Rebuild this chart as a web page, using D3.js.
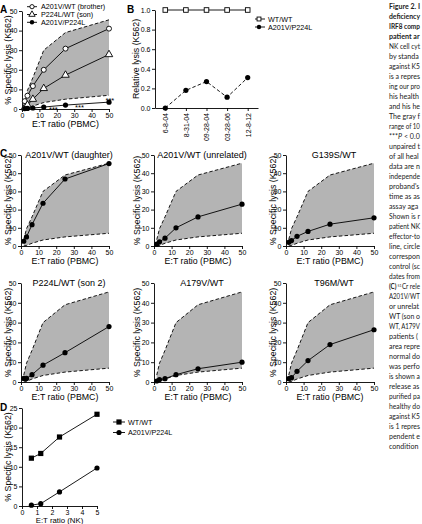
<!DOCTYPE html>
<html><head><meta charset="utf-8">
<script src="https://cdn.jsdelivr.net/npm/d3@7"></script>
<style>
body{margin:0;background:#fff;overflow:hidden}
svg{display:block}
.ch text{font-family:"Liberation Sans",Arial,sans-serif;fill:#000}
.cap text{font-family:"Lato","Noto Sans",sans-serif;fill:#222}
</style></head><body>
<svg id="c" width="422" height="524"></svg>
<script>
// ---------- DATA ----------
const etRatios = [1.5625, 3.125, 6.25, 12.5, 25, 50];
const bandUpper = [3.5, 9.5, 16, 30, 39, 45.5];
const bandLower = [0, 0.3, 1.5, 3.3, 5, 7];
const lysisTicks = [0, 10, 20, 30, 40, 50];

// Panel A
const aLegend = ["A201V/WT (brother)", "P224L/WT (son)", "A201V/P224L"];
const aBrother = [4, 6.8, 11.7, 20, 30.8, 41];
const aSon = [0.7, 2, 5, 10.5, 17.3, 27.8];
const aPatient = [0.2, 0.3, 0.5, 1, 2, 3.5];
const aStars = [[15.5, 1], [30.5, 2], [48, 5.5]];

// Panel B
const bDates = ["6-8-04", "8-31-04", "09-28-04", "03-28-06", "12-8-12"];
const bWT = [1, 1, 1, 1, 1];
const bPatient = [0, 0.18, 0.27, 0.11, 0.31];
const bLegend = ["WT/WT", "A201V/P224L"];
const bTicks = [0, 0.2, 0.4, 0.6, 0.8, 1.0];

// Panel C
const cTitles = ["A201V/WT (daughter)", "A201V/WT (unrelated)", "G139S/WT",
                 "P224L/WT (son 2)", "A179V/WT", "T96M/WT"];
const cDaughter = [2.6, 5, 11.7, 23.5, 36.8, 45.3];
const cUnrelated = [1, 2.3, 4.3, 10, 16, 23];
const cG139S = [2, 3, 5.3, 8, 12, 15.5];
const cSon2 = [1.8, 1.8, 3.7, 8.5, 14.8, 28];
const cA179V = [0.5, 1.2, 1.7, 3.7, 6.7, 10];
const cT96M = [1.7, 2.2, 5.4, 10.8, 18.9, 26.4];

// Panel D
const dRatios = [0.625, 1.25, 2.5, 5];
const dWT = [12.2, 13.4, 17.6, 23.4];
const dPatient = [0.2, 0.6, 3.6, 9.7];
const dLegend = ["WT/WT", "A201V/P224L"];
const dXTicks = [0, 1, 2, 3, 4, 5];
const dYTicks = [0, 5, 10, 15, 20, 25];

// Caption
const captionLines = ["Figure 2. I", "deficiency", "IRF8 comp", "patient ar",
 "NK cell cyt", "by standa", "against K5", "is a repres", "ing our pro", "his health",
 "and his he", "The gray f", "range of 10", "***P < 0.0", "unpaired t", "of all heal",
 "data are n", "independe", "proband's", "time as as", "assay aga", "Shown is r",
 "patient NK", "effector-to", "line, circle", "correspon", "control (sc", "dates from",
 "(C) 51Cr rele", "A201V/WT", "or unrelat", "WT (son o", "WT, A179V", "patients (",
 "area repre", "normal do", "was perfo", "is shown a", "release as", "purified pa",
 "healthy do", "against K5", "is 1 repres", "pendent e", "condition"];

// ---------- DRAWING ----------
const svg = d3.select("#c");
const ch = svg.append("g").attr("class", "ch");
const GRAY = "#b4b4b4";
const TICKFS = 7, TITLEFS = 8.8;

function styleAxis(g) {
  g.selectAll("path.domain").attr("stroke", "#000").attr("stroke-width", 0.9);
  g.selectAll(".tick line").attr("stroke", "#000").attr("stroke-width", 0.9);
  g.selectAll(".tick text").attr("font-size", TICKFS).attr("font-family", "Liberation Sans, Arial, sans-serif").attr("fill", "#000");
}

function marker(g, type, cx, cy, s = 1) {
  if (type === "circle") g.append("circle").attr("cx", cx).attr("cy", cy).attr("r", 2.6 * s).attr("fill", "#000");
  else if (type === "circleOpen") g.append("circle").attr("cx", cx).attr("cy", cy).attr("r", 2.5 * s).attr("fill", "#fff").attr("stroke", "#000").attr("stroke-width", 0.9);
  else if (type === "triOpen") g.append("path").attr("d", d3.symbol(d3.symbolTriangle, 24 * s * s)()).attr("transform", `translate(${cx},${cy})`).attr("fill", "#fff").attr("stroke", "#000").attr("stroke-width", 0.9);
  else if (type === "square") g.append("rect").attr("x", cx - 2.6 * s).attr("y", cy - 2.6 * s).attr("width", 5.2 * s).attr("height", 5.2 * s).attr("fill", "#000");
  else if (type === "squareOpen") g.append("rect").attr("x", cx - 2.3 * s).attr("y", cy - 2.3 * s).attr("width", 4.6 * s).attr("height", 4.6 * s).attr("fill", "#fff").attr("stroke", "#000").attr("stroke-width", 0.9);
}

function yLabel(text, x, cy) {
  ch.append("text").attr("transform", `translate(${x},${cy}) rotate(-90)`)
    .attr("text-anchor", "middle").attr("dy", "0.35em").attr("font-size", TITLEFS).text(text);
}

function panelLetter(t, x, y) {
  ch.append("text").attr("x", x).attr("y", y).attr("font-size", 10).attr("font-weight", "bold").text(t);
}

function lysisPanel(o) {
  const g = ch.append("g");
  const x = d3.scaleLinear([0, 50], [o.x0, o.x1]);
  const y = d3.scaleLinear([0, 50], [o.yb, o.yt]);
  const area = d3.area().x((d, i) => x(etRatios[i])).y0((d, i) => y(bandLower[i])).y1((d, i) => y(bandUpper[i]));
  g.append("path").attr("d", area(etRatios)).attr("fill", GRAY);
  const line = vals => d3.line().x((d, i) => x(etRatios[i])).y((d, i) => y(vals[i]))(vals);
  [bandUpper, bandLower].forEach(v => g.append("path").attr("d", line(v)).attr("fill", "none")
    .attr("stroke", "#000").attr("stroke-width", 0.9).attr("stroke-dasharray", "3.5,2.2"));
  const ax = g.append("g").attr("transform", `translate(0,${o.yb})`)
    .call(d3.axisBottom(x).tickValues(lysisTicks).tickFormat(d3.format("d")).tickSize(3).tickSizeOuter(0).tickPadding(1.5));
  styleAxis(ax);
  const ay = g.append("g").attr("transform", `translate(${o.x0},0)`)
    .call(d3.axisLeft(y).tickValues(lysisTicks).tickFormat(d3.format("d")).tickSize(3).tickSizeOuter(0).tickPadding(1.5));
  styleAxis(ay);
  o.series.forEach(s => {
    g.append("path").attr("d", line(s.values)).attr("fill", "none").attr("stroke", "#000").attr("stroke-width", 0.9);
  });
  o.series.forEach(s => s.values.forEach((v, i) => marker(g, s.type, x(etRatios[i]), y(v))));
  g.append("text").attr("x", (o.x0 + o.x1) / 2).attr("y", o.yb + 18).attr("text-anchor", "middle").attr("font-size", TITLEFS).text("E:T ratio (PBMC)");
  if (o.title) g.append("text").attr("x", (o.x0 + o.x1) / 2 + 4).attr("y", o.yt + 3).attr("text-anchor", "middle").attr("font-size", 9).text(o.title);
  yLabel("% Specific lysis (K562)", o.ylx, (o.yt + o.yb) / 2);
  return {g, x, y};
}

// Panel A
panelLetter("A", 0, 13);
const A = lysisPanel({x0: 22, x1: 109, yt: 11, yb: 109, ylx: 8,
  series: [{values: aBrother, type: "circleOpen"}, {values: aSon, type: "triOpen"}, {values: aPatient, type: "circle"}]});
aStars.forEach(s => A.g.append("text").attr("x", A.x(s[0])).attr("y", A.y(s[1]) + 4.5).attr("font-size", 7.5).text("***"));
const aTypes = ["circleOpen", "triOpen", "circle"];
aLegend.forEach((t, i) => {
  const ly = 6.7 + i * 7.8;
  A.g.append("line").attr("x1", 27).attr("x2", 37).attr("y1", ly).attr("y2", ly).attr("stroke", "#000").attr("stroke-width", 0.9);
  marker(A.g, aTypes[i], 32, ly, 0.85);
  A.g.append("text").attr("x", 41).attr("y", ly).attr("dy", "0.35em").attr("font-size", 7.2).text(t);
});

// Panel B
panelLetter("B", 127, 13);
{
  const g = ch.append("g");
  const x = d3.scalePoint().domain(bDates).range([155, 258]).padding(0.5);
  const y = d3.scaleLinear([0, 1], [108, 10]);
  const ax = g.append("g").attr("transform", "translate(0,108)")
    .call(d3.axisBottom(x).tickSize(3).tickSizeOuter(0));
  styleAxis(ax);
  ax.selectAll(".tick text").attr("transform", "rotate(-90)").attr("x", -5).attr("y", 0).attr("dy", "0.35em").style("text-anchor", "end");
  const ay = g.append("g").attr("transform", "translate(155,0)")
    .call(d3.axisLeft(y).tickValues(bTicks).tickFormat(d3.format(".1f")).tickSize(3).tickSizeOuter(0).tickPadding(1.5));
  styleAxis(ay);
  const ln = vals => d3.line().x((d, i) => x(bDates[i])).y(d => y(d))(vals);
  g.append("path").attr("d", ln(bWT)).attr("fill", "none").attr("stroke", "#000").attr("stroke-width", 0.9);
  g.append("path").attr("d", ln(bPatient)).attr("fill", "none").attr("stroke", "#000").attr("stroke-width", 0.9).attr("stroke-dasharray", "3.5,2.2");
  bWT.forEach((v, i) => marker(g, "squareOpen", x(bDates[i]), y(v)));
  bPatient.forEach((v, i) => marker(g, "circle", x(bDates[i]), y(v)));
  const bTypes = ["squareOpen", "circle"];
  bLegend.forEach((t, i) => {
    const ly = 19 + i * 8;
    g.append("line").attr("x1", 255).attr("x2", 265).attr("y1", ly).attr("y2", ly).attr("stroke", "#000").attr("stroke-width", 0.9);
    marker(g, bTypes[i], 259, ly, 0.85);
    g.append("text").attr("x", 268).attr("y", ly).attr("dy", "0.35em").attr("font-size", 7.2).text(t);
  });
  yLabel("Relative lysis (K562)", 136, 59);
}

// Panel C
panelLetter("C", 0, 157);
const cData = [cDaughter, cUnrelated, cG139S, cSon2, cA179V, cT96M];
const cCols = [[21, 109, 8], [154, 242, 137], [286, 374, 273]];
const cRows = [[155, 246], [283, 382]];
cData.forEach((vals, k) => {
  const c = cCols[k % 3], r = cRows[Math.floor(k / 3)];
  lysisPanel({x0: c[0], x1: c[1], yt: r[0], yb: r[1], ylx: c[2], title: cTitles[k],
    series: [{values: vals, type: "circle"}]});
});

// Panel D
panelLetter("D", 0, 411);
{
  const g = ch.append("g");
  const x = d3.scaleLinear([0, 5], [22, 97]);
  const y = d3.scaleLinear([0, 25], [506, 408]);
  const ax = g.append("g").attr("transform", "translate(0,506)")
    .call(d3.axisBottom(x).tickValues(dXTicks).tickFormat(d3.format("d")).tickSize(3).tickSizeOuter(0).tickPadding(1));
  styleAxis(ax);
  const ay = g.append("g").attr("transform", "translate(22,0)")
    .call(d3.axisLeft(y).tickValues(dYTicks).tickFormat(d3.format("d")).tickSize(3).tickSizeOuter(0).tickPadding(1.5));
  styleAxis(ay);
  const ln = vals => d3.line().x((d, i) => x(dRatios[i])).y(d => y(d))(vals);
  g.append("path").attr("d", ln(dWT)).attr("fill", "none").attr("stroke", "#000").attr("stroke-width", 0.9);
  g.append("path").attr("d", ln(dPatient)).attr("fill", "none").attr("stroke", "#000").attr("stroke-width", 0.9);
  dWT.forEach((v, i) => marker(g, "square", x(dRatios[i]), y(v)));
  dPatient.forEach((v, i) => marker(g, "circle", x(dRatios[i]), y(v)));
  const dTypes = ["square", "circle"];
  dLegend.forEach((t, i) => {
    const ly = 422 + i * 10.5;
    g.append("line").attr("x1", 113).attr("x2", 125).attr("y1", ly).attr("y2", ly).attr("stroke", "#000").attr("stroke-width", 0.9);
    marker(g, dTypes[i], 119, ly);
    g.append("text").attr("x", 128).attr("y", ly).attr("dy", "0.35em").attr("font-size", 7.2).text(t);
  });
  g.append("text").attr("x", 59.5).attr("y", 522.8).attr("text-anchor", "middle").attr("font-size", 7.8).text("E:T ratio (NK)");
  yLabel("% Specific lysis (K562)", 8, 457);
}

// Caption (fragment lines, horizontally condensed to fit the right margin)
{
  const cap = svg.append("g").attr("class", "cap");
  const avail = 31, FS = 8.1;
  captionLines.forEach((t, i) => {
    const gy = 9 + i * 10;
    const lg = cap.append("g");
    const bold = i < 4;
    let L;
    if (t.startsWith("(C) 51Cr")) {
      const a = lg.append("text").attr("x", 0).attr("y", 0).attr("font-size", FS).attr("font-weight", "bold").text("(C)");
      const aw = a.node().getComputedTextLength() + 1.5;
      const b = lg.append("text").attr("x", aw).attr("y", -2.2).attr("font-size", 4.6).text("51");
      const bw = aw + b.node().getComputedTextLength() + 0.3;
      const c = lg.append("text").attr("x", bw).attr("y", 0).attr("font-size", FS).text(t.slice(6));
      L = bw + c.node().getComputedTextLength();
    } else {
      const tx = lg.append("text").attr("x", 0).attr("y", 0).attr("font-size", FS).attr("font-weight", bold ? "bold" : "normal");
      if (t.startsWith("***P")) {
        tx.append("tspan").text("***");
        tx.append("tspan").attr("font-style", "italic").text("P");
        tx.append("tspan").text(t.slice(4));
      } else tx.text(t);
      L = tx.node().getComputedTextLength();
    }
    const sx = Math.min(0.88, avail / L);
    lg.attr("transform", `translate(389,${gy}) scale(${sx},1)`);
  });
}
</script>
</body></html>
